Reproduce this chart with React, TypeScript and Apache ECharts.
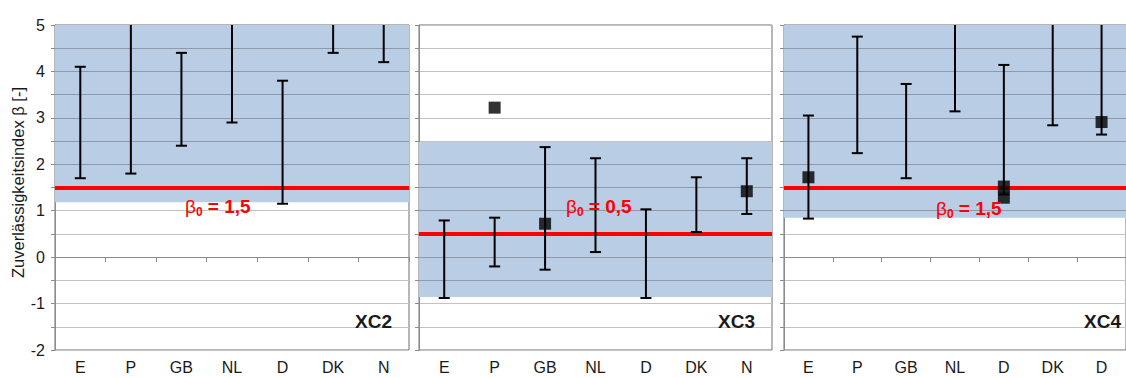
import React, { useEffect, useRef } from "react";
import * as echarts from "echarts";

const catsXC2 = ["E", "P", "GB", "NL", "D", "DK", "N"];
const catsXC3 = ["E", "P", "GB", "NL", "D", "DK", "N"];
const catsXC4 = ["E", "P", "GB", "NL", "D", "DK", "D"];

// error bars: [category index, low, high]
const barsXC2 = [
  [0, 1.7, 4.1],
  [1, 1.8, 5.6],
  [2, 2.4, 4.4],
  [3, 2.9, 5.6],
  [4, 1.15, 3.8],
  [5, 4.4, 5.6],
  [6, 4.2, 5.6],
];
const barsXC3 = [
  [0, -0.88, 0.79],
  [1, -0.2, 0.85],
  [2, -0.27, 2.37],
  [3, 0.11, 2.13],
  [4, -0.88, 1.03],
  [5, 0.54, 1.72],
  [6, 0.93, 2.13],
];
const barsXC4 = [
  [0, 0.83, 3.05],
  [1, 2.24, 4.75],
  [2, 1.7, 3.73],
  [3, 3.14, 5.6],
  [4, 1.35, 4.14],
  [5, 2.84, 5.6],
  [6, 2.64, 5.6],
];

// square markers: [category index, value]
const pointsXC2: number[][] = [];
const pointsXC3 = [
  [1, 3.22],
  [2, 0.72],
  [6, 1.42],
];
const pointsXC4 = [
  [0, 1.72],
  [4, 1.52],
  [4, 1.28],
  [6, 2.91],
];

const bandLow = [1.18, -0.86, 0.85];
const bandHigh = [5, 2.48, 5];
const betaZero = [1.5, 0.5, 1.5];
const betaLabels = ["1,5", "0,5", "1,5"];
const panelNames = ["XC2", "XC3", "XC4"];
const yTitle = "Zuverlässigkeitsindex β [-]";
const yGridValues = [-2, -1.5, -1, -0.5, 0, 0.5, 1, 1.5, 2, 2.5, 3, 3.5, 4, 4.5, 5];

const FONT = "'Liberation Sans', Arial, sans-serif";
const GRID_LINE = "#c2c2c2";
const GRID_LINE_BAND = "#8d9aab";

export default function App() {
  const ref = useRef<HTMLDivElement>(null);

  useEffect(() => {
    if (!ref.current) return;
    const chart = echarts.init(ref.current, undefined, { renderer: "svg" });

    const grids = [
      { left: 55, top: 25, width: 354, height: 325 },
      { left: 419, top: 25, width: 353, height: 325 },
      { left: 784, top: 25, width: 354, height: 325 },
    ];
    const cats = [catsXC2, catsXC3, catsXC4];
    const bars = [barsXC2, barsXC3, barsXC4];
    const points = [pointsXC2, pointsXC3, pointsXC4];

    const xAxis: any[] = [];
    const yAxis: any[] = [];
    const series: any[] = [];
    const graphic: any[] = [];

    grids.forEach((g, i) => {
      xAxis.push({
        type: "category",
        gridIndex: i,
        data: cats[i],
        boundaryGap: true,
        axisLine: { lineStyle: { color: "#8c8c8c" } },
        axisTick: { show: true, length: 5, lineStyle: { color: "#8c8c8c" } },
        axisLabel: { fontSize: 16, color: "#1a1a1a", margin: 9, fontFamily: FONT, interval: 0 },
        splitLine: { show: false },
      });
      yAxis.push({
        type: "value",
        gridIndex: i,
        min: -2,
        max: 5,
        interval: 0.5,
        axisLine: { show: true, lineStyle: { color: "#8c8c8c" } },
        axisTick: { show: true, length: 4, lineStyle: { color: "#8c8c8c" } },
        axisLabel: {
          show: i === 0,
          fontSize: 16,
          color: "#1a1a1a",
          margin: 10,
          fontFamily: FONT,
          formatter: (v: number) => (Number.isInteger(v) ? String(v) : ""),
        },
        splitLine: { show: true, lineStyle: { color: GRID_LINE, width: 1 } },
      });

      // blue band
      series.push({
        type: "custom",
        xAxisIndex: i,
        yAxisIndex: i,
        z: 1,
        silent: true,
        clip: true,
        data: [[0, bandLow[i], bandHigh[i]]],
        renderItem: (params: any, api: any) => {
          const cs = params.coordSys;
          const yLo = api.coord([0, api.value(1)])[1];
          const yHi = api.coord([0, api.value(2)])[1];
          return {
            type: "rect",
            shape: { x: cs.x, y: yHi, width: cs.width, height: yLo - yHi },
            style: { fill: "#b9cde5" },
          };
        },
      });
      // grid lines running through the band (as mark lines, drawn above the band)
      const lo = bandLow[i];
      const hi = bandHigh[i];
      series.push({
        type: "line",
        xAxisIndex: i,
        yAxisIndex: i,
        data: [],
        z: 3,
        markLine: {
          silent: true,
          z: 3,
          symbol: ["none", "none"],
          label: { show: false },
          lineStyle: { color: GRID_LINE_BAND, width: 1, type: "solid" },
          data: yGridValues.filter((v) => v > lo && v < hi).map((v) => ({ yAxis: v })),
        },
      });
      // red reference line
      series.push({
        type: "line",
        xAxisIndex: i,
        yAxisIndex: i,
        data: [],
        z: 4,
        markLine: {
          silent: true,
          z: 4,
          symbol: ["none", "none"],
          label: { show: false },
          lineStyle: { color: "#ff0000", width: 4, type: "solid" },
          data: [{ yAxis: betaZero[i] }],
        },
      });
      // error bars
      series.push({
        type: "custom",
        xAxisIndex: i,
        yAxisIndex: i,
        z: 6,
        clip: true,
        data: bars[i],
        renderItem: (_p: any, api: any) => {
          const x = api.value(0);
          const lo2 = api.coord([x, api.value(1)]);
          const hi2 = api.coord([x, api.value(2)]);
          const hw = 5.5;
          const st = { stroke: "#000", lineWidth: 2 };
          return {
            type: "group",
            children: [
              { type: "line", shape: { x1: lo2[0], y1: lo2[1], x2: hi2[0], y2: hi2[1] }, style: st },
              { type: "line", shape: { x1: lo2[0] - hw, y1: lo2[1], x2: lo2[0] + hw, y2: lo2[1] }, style: st },
              { type: "line", shape: { x1: hi2[0] - hw, y1: hi2[1], x2: hi2[0] + hw, y2: hi2[1] }, style: st },
            ],
          };
        },
      });
      // squares
      series.push({
        type: "scatter",
        xAxisIndex: i,
        yAxisIndex: i,
        z: 7,
        symbol: "rect",
        symbolSize: 12,
        itemStyle: { color: "#000" },
        data: points[i],
      });

      graphic.push({
        type: "text",
        z: 100,
        right: 1126 - (g.left + g.width - 17),
        top: 312,
        style: {
          text: panelNames[i],
          fontSize: 19,
          fontWeight: "bold",
          fill: "#1a1a1a",
          fontFamily: FONT,
        },
      });
    });

    graphic.push({
      type: "text",
      z: 100,
      x: 17.5,
      y: 182.5,
      rotation: Math.PI / 2,
      style: {
        text: yTitle,
        fontSize: 16.5,
        fill: "#1a1a1a",
        fontFamily: FONT,
        align: "center",
        verticalAlign: "middle",
      },
    });

    const labelPos = [
      { x: 185, y: 197 },
      { x: 566, y: 197 },
      { x: 936, y: 199 },
    ];
    labelPos.forEach((p, i) => {
      graphic.push({
        type: "text",
        z: 100,
        left: p.x,
        top: p.y,
        style: {
          text: `{b|β}{s|0}{a| = ${betaLabels[i]}}`,
          fontFamily: FONT,
          rich: {
            b: { fontSize: 19, fill: "#ff0000", fontFamily: FONT, lineHeight: 22, verticalAlign: "middle" },
            s: { fontSize: 12, fontWeight: "bold", fill: "#ff0000", fontFamily: FONT, lineHeight: 12, verticalAlign: "bottom" },
            a: { fontSize: 19, fontWeight: "bold", fill: "#ff0000", fontFamily: FONT, lineHeight: 22, verticalAlign: "middle" },
          },
        },
      });
    });

    chart.setOption({
      animation: false,
      backgroundColor: "#ffffff",
      textStyle: { fontFamily: FONT },
      grid: grids.map((g) => ({ ...g, show: true, borderColor: "#6e6e6e", borderWidth: 1, backgroundColor: "transparent" })),
      xAxis,
      yAxis,
      series,
      graphic,
    });

    return () => chart.dispose();
  }, []);

  return (
    <div
      ref={ref}
      style={{ position: "absolute", left: 0, top: 0, width: 1126, height: 377, overflow: "hidden" }}
    />
  );
}
